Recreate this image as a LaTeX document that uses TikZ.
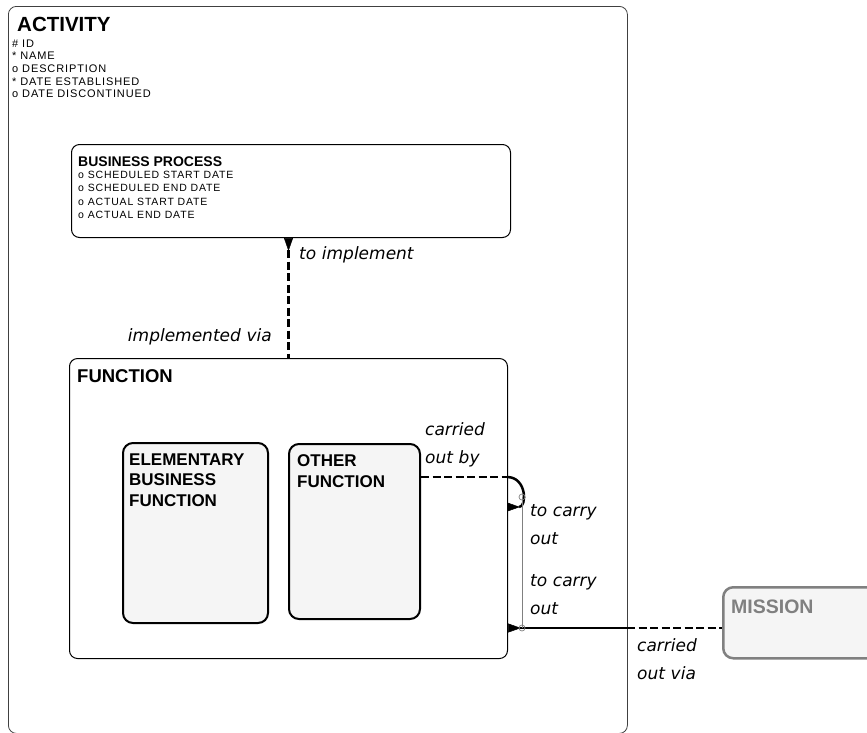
\documentclass[tikz,border=0pt]{standalone}
\usepackage{fontspec}
\setmainfont{Liberation Sans}
\newfontfamily\attrfont[LetterSpace=8]{Liberation Sans}
\newfontfamily\rolefont{DejaVu Sans}
\usetikzlibrary{arrows.meta}
\definecolor{boxfill}{RGB}{245,245,245}
\definecolor{missiongray}{RGB}{128,128,128}
\tikzset{
	entity/.style={draw, rounded corners=8pt, inner sep=0pt, anchor=north west},
	subentity/.style={entity, fill=boxfill, line width=2pt, rounded corners=10pt},
	title/.style={anchor=base west, inner sep=0pt, font=\bfseries},
	attrs/.style={anchor=north west, inner sep=0pt, align=left},
	role/.style={inner sep=0pt, align=left, text width=7cm, font=\rolefont\itshape\fontsize{17}{28}\selectfont},
	relline/.style={line width=2.5pt},
	optline/.style={relline, dash pattern=on 8pt off 3.5pt},
	crowtip/.tip={Triangle[reversed, length=13pt, width=9pt, line width=0.5pt]},
	arcline/.style={draw=missiongray, line width=0.7pt}
}
\begin{document}
\begin{tikzpicture}[x=1pt, y=-1pt]
	\useasboundingbox (0,0) rectangle (867,732);
	% entities
	\node[entity, draw=black!75, line width=0.8pt, minimum width=619pt, minimum height=727pt] (activity) at (8,6) {};
	\node[title, font=\bfseries\fontsize{20.5}{24}\selectfont] (activitytitle) at (17,31.5) {ACTIVITY};
	\node[attrs, font=\attrfont\fontsize{11}{12.6}\selectfont] (activityattrs) at (12,39.5) {\# ID\\* NAME\\o DESCRIPTION\\* DATE ESTABLISHED\\o DATE DISCONTINUED};
	\node[entity, line width=1pt, minimum width=439pt, minimum height=93pt] (bp) at (71,144) {};
	\node[title, font=\bfseries\fontsize{14}{16}\selectfont] (bptitle) at (78,166) {BUSINESS PROCESS};
	\node[attrs, font=\attrfont\fontsize{10.5}{13.5}\selectfont] (bpattrs) at (78,170.5) {o SCHEDULED START DATE\\o SCHEDULED END DATE\\o ACTUAL START DATE\\o ACTUAL END DATE};
	\node[entity, line width=1pt, minimum width=438pt, minimum height=300pt] (function) at (69,358) {};
	\node[title, font=\bfseries\fontsize{18.5}{22}\selectfont] (functiontitle) at (77,382.5) {FUNCTION};
	\node[subentity, minimum width=145pt, minimum height=180pt] (elementary) at (122,442) {};
	\node[attrs, font=\bfseries\fontsize{17}{20.5}\selectfont] (elementarytitle) at (129,453.5) {ELEMENTARY\\BUSINESS\\FUNCTION};
	\node[subentity, minimum width=131pt, minimum height=175pt] (other) at (288,443) {};
	\node[attrs, font=\bfseries\fontsize{17}{20.5}\selectfont] (othertitle) at (297,454.5) {OTHER\\FUNCTION};
	\node[subentity, draw=missiongray, line width=2.5pt, minimum width=160pt, minimum height=71pt] (mission) at (722,586) {};
	\node[title, text=missiongray, font=\bfseries\fontsize{19.5}{22}\selectfont] (missiontitle) at (731,613) {MISSION};
	% relationships
	\draw[optline, {crowtip}-] (bp.south -| function.north) -- (function.north);
	\coordinate (earin) at (507,477);
	\coordinate (earout) at (507,507);
	\draw[optline] (earin -| other.east) -- (earin);
	\draw[relline, -{crowtip}] (earin) .. controls +(20,0) and +(20,0) .. (earout);
	\coordinate (cross) at (627,628);
	\draw[relline, {crowtip}-] (function.east |- cross) -- (cross);
	\draw[optline] (cross) -- (mission.west |- cross);
	% arc
	\coordinate (arctop) at (522,497);
	\coordinate (arcbot) at (522,628);
	\draw[arcline] (arctop) -- (arcbot);
	\draw[arcline] (arctop) circle[radius=3pt] (arcbot) circle[radius=3pt];
	% role names
	\node[role, anchor=base west] (toimplement) at (299,259) {to implement};
	\node[role, anchor=base east, align=right] (implementedvia) at (272,341) {implemented via};
	\node[role, anchor=base west] (carriedoutby) at (425,435) {carried\\out by};
	\node[role, anchor=base west] (tocarryout) at (530,516) {to carry\\out};
	\node[role, anchor=base west] (tocarryoutb) at (530,586) {to carry\\out};
	\node[role, anchor=base west] (carriedoutvia) at (637,651) {carried\\out via};
\end{tikzpicture}
\end{document}
